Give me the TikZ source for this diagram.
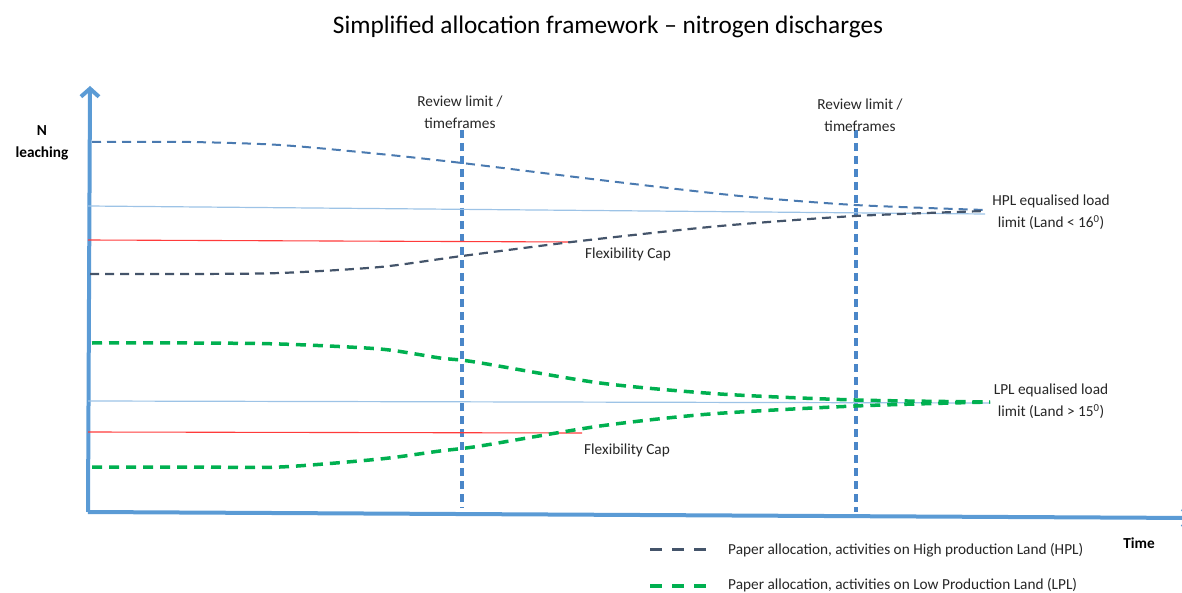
\documentclass[tikz,border=0pt]{standalone}
\usepackage{fontspec}
\setmainfont{Carlito}
\usetikzlibrary{arrows.meta}
\definecolor{axisblue}{HTML}{5B9BD5}
\definecolor{reviewblue}{HTML}{4A86C8}
\definecolor{hplhigh}{HTML}{4A7AB0}
\definecolor{hpllow}{HTML}{44546A}
\definecolor{lplgreen}{HTML}{00B050}
\definecolor{limitblue}{HTML}{9DC3E6}
\definecolor{capred}{HTML}{FF3B3B}
\definecolor{labeltext}{HTML}{262626}
\tikzset{
  axisline/.style={draw=axisblue, line width=4pt, line join=miter},
  reviewline/.style={draw=reviewblue, line width=3.2pt, dash pattern=on 8pt off 5pt},
  hplupper/.style={draw=hplhigh, line width=2pt, dash pattern=on 9pt off 6pt},
  hpllower/.style={draw=hpllow, line width=2.2pt, dash pattern=on 9pt off 6pt},
  lplcurve/.style={draw=lplgreen, line width=3.5pt, dash pattern=on 10pt off 7pt},
  loadlimit/.style={draw=limitblue, line width=1.2pt},
  flexcap/.style={draw=capred, line width=1.1pt},
  lbl/.style={text=labeltext, font=\fontsize{15.3}{22}\selectfont, inner sep=0pt, align=center},
  boldlbl/.style={text=black, font=\fontsize{15.3}{22}\selectfont\bfseries, inner sep=0pt, align=center},
}
\begin{document}
\begin{tikzpicture}[x=1pt, y=-1pt]
\useasboundingbox (0,0) rectangle (1182,593);

% title
\node[text=black, font=\fontsize{25.3}{30}\selectfont, inner sep=0pt] (title) at (608,27) {Simplified allocation framework -- nitrogen discharges};

% axes
\coordinate (origin) at (88,512);
\coordinate (ytop) at (90,86);
\coordinate (xend) at (1193,518);
\draw[axisline, -{Straight Barb[length=8pt, width=18pt, line width=4pt]}] (origin) -- (ytop);
\draw[axisline, -{Straight Barb[length=8pt, width=18pt, line width=4pt]}] (origin) -- (xend);

\node[boldlbl] (ylabel) at (42,143) {N\\leaching};
\node[boldlbl, anchor=base] (xlabel) at (1139,548) {Time};

% review limits
\coordinate (r1top) at (462,130);
\coordinate (r1bot) at (462,508);
\coordinate (r2top) at (856,130);
\coordinate (r2bot) at (856,512);
\draw[reviewline] (r1top) -- (r1bot);
\draw[reviewline] (r2top) -- (r2bot);
\node[lbl] (review1) at (460,112) {Review limit /\\timeframes};
\node[lbl] (review2) at (860,115) {Review limit /\\timeframes};

% high production land
\coordinate (hpllimA) at (88,206);
\coordinate (hpllimB) at (985,214);
\draw[loadlimit] (hpllimA) -- (hpllimB);
\coordinate (hplcapA) at (88,240);
\coordinate (hplcapB) at (574,242);
\draw[flexcap] (hplcapA) -- (hplcapB);
\draw[hplupper] plot[smooth, tension=0.45] coordinates {(92,142) (190,142) (280,145) (380,154) (462,163) (600,180) (740,196) (855,205) (985,210)};
\draw[hpllower] plot[smooth, tension=0.45] coordinates {(90,274) (190,274) (280,273) (380,267) (462,256) (580,241) (720,226) (855,216) (985,211)};
\node[lbl] (hpllabel) at (1051,212) {HPL equalised load\\limit (Land < 16\textsuperscript{0})};
\node[lbl, anchor=west] (hplflex) at (585,254) {Flexibility Cap};

% low production land
\coordinate (lpllimA) at (88,401);
\coordinate (lpllimB) at (990,403);
\draw[loadlimit] (lpllimA) -- (lpllimB);
\coordinate (lplcapA) at (88,432);
\coordinate (lplcapB) at (582,433);
\draw[flexcap] (lplcapA) -- (lplcapB);
\draw[lplcurve] plot[smooth, tension=0.45] coordinates {(92,343) (190,343) (280,344) (380,349) (440,358) (475,362) (600,383) (720,394) (855,400) (990,402)};
\draw[lplcurve] plot[smooth, tension=0.45] coordinates {(92,467) (190,467) (280,467) (380,459) (440,451) (480,446) (600,426) (710,414) (855,406) (990,402)};
\node[lbl] (lpllabel) at (1051,401) {LPL equalised load\\limit (Land > 15\textsuperscript{0})};
\node[lbl, anchor=west] (lplflex) at (584,450) {Flexibility Cap};

% legend
\coordinate (leg1A) at (650,549);
\coordinate (leg1B) at (712,549);
\draw[hpllower, line width=3pt, dash pattern=on 12pt off 10pt] (leg1A) -- (leg1B);
\node[lbl, anchor=west] (leg1) at (728,550) {Paper allocation, activities on High production Land (HPL)};
\coordinate (leg2A) at (650,586);
\coordinate (leg2B) at (712,586);
\draw[lplcurve, dash pattern=on 12pt off 10pt] (leg2A) -- (leg2B);
\node[lbl, anchor=west] (leg2) at (728,585) {Paper allocation, activities on Low Production Land (LPL)};
\end{tikzpicture}
\end{document}
